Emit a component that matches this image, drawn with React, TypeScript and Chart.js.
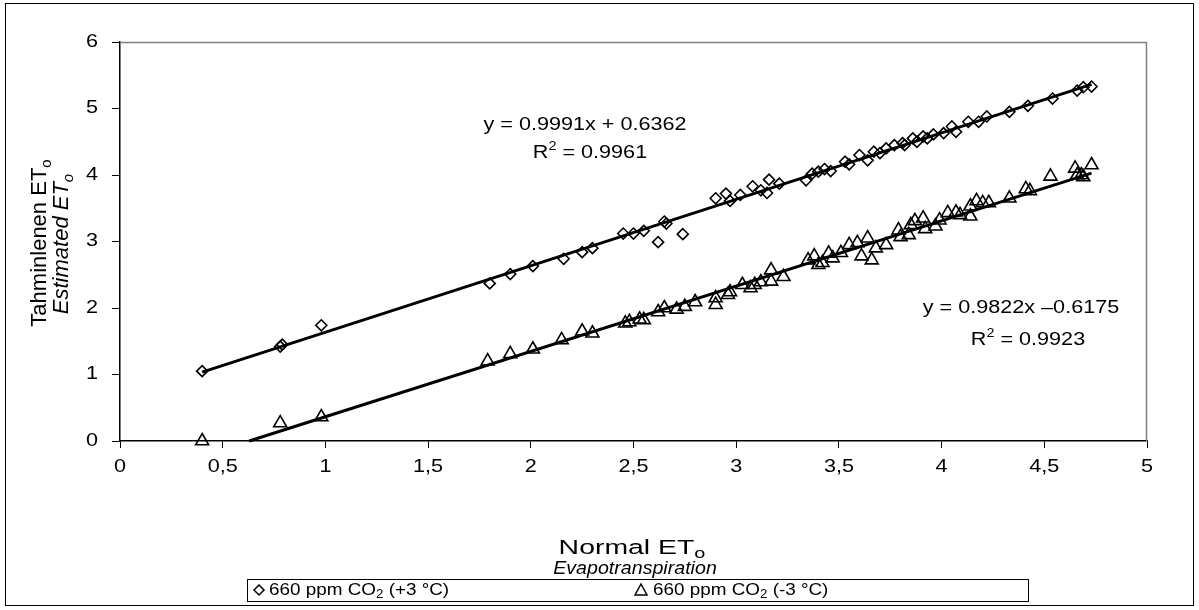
import React, { useEffect, useRef } from "react";
import { Chart, registerables } from "chart.js";

Chart.register(...registerables);

// ---- data ----
const diamondX = [
  0.4, 0.78, 0.79, 0.98, 1.8, 1.9, 2.01, 2.16, 2.25, 2.3, 2.45, 2.5, 2.55, 2.62, 2.65, 2.66, 2.74,
  2.9, 2.95, 2.97, 3.02, 3.08, 3.12, 3.15, 3.16, 3.21, 3.34, 3.37, 3.4, 3.43, 3.46, 3.53, 3.55,
  3.6, 3.64, 3.67, 3.7, 3.73, 3.77, 3.81, 3.82, 3.86, 3.88, 3.91, 3.93, 3.96, 4.01, 4.05, 4.07,
  4.13, 4.18, 4.22, 4.33, 4.42, 4.54, 4.66, 4.69, 4.73,
];
const diamondY = [
  1.05, 1.42, 1.45, 1.74, 2.37, 2.51, 2.63, 2.74, 2.84, 2.9, 3.12, 3.12, 3.16, 2.99, 3.3, 3.27, 3.11,
  3.65, 3.72, 3.61, 3.7, 3.83, 3.77, 3.73, 3.93, 3.87, 3.92, 4.02, 4.05, 4.09, 4.06, 4.2, 4.16,
  4.3, 4.22, 4.35, 4.33, 4.4, 4.45, 4.48, 4.45, 4.55, 4.5, 4.58, 4.55, 4.61, 4.63, 4.73, 4.65,
  4.8, 4.8, 4.88, 4.95, 5.04, 5.15, 5.27, 5.32, 5.33,
];
const triangleX = [
  0.4, 0.78, 0.98, 1.79, 1.9, 2.01, 2.15, 2.25, 2.3, 2.46, 2.48, 2.53, 2.55, 2.62, 2.65, 2.71, 2.75,
  2.8, 2.9, 2.9, 2.96, 2.97, 3.03, 3.07, 3.09, 3.12, 3.17, 3.17, 3.23, 3.35, 3.38, 3.4, 3.42, 3.45,
  3.47, 3.51, 3.55, 3.59, 3.61, 3.64, 3.66, 3.68, 3.73, 3.79, 3.8, 3.84, 3.85, 3.87, 3.91, 3.92,
  3.97, 3.99, 4.03, 4.07, 4.09, 4.14, 4.14, 4.17, 4.2, 4.23, 4.33, 4.41, 4.43, 4.53, 4.65, 4.66,
  4.68, 4.69, 4.73,
];
const triangleY = [
  0.0, 0.27, 0.36, 1.2, 1.31, 1.38, 1.52, 1.65, 1.62, 1.77, 1.79, 1.83, 1.82, 1.94, 2.0, 1.98, 2.02,
  2.09, 2.15, 2.05, 2.2, 2.24, 2.35, 2.3, 2.35, 2.39, 2.4, 2.57, 2.47, 2.72, 2.78, 2.65, 2.68, 2.82,
  2.75, 2.83, 2.95, 2.98, 2.78, 3.05, 2.72, 2.9, 2.95, 3.17, 3.07, 3.1, 3.25, 3.31, 3.35, 3.19,
  3.23, 3.32, 3.43, 3.44, 3.4, 3.53, 3.38, 3.61, 3.58, 3.58, 3.65, 3.79, 3.76, 3.98, 4.1, 4.0,
  4.0, 3.97, 4.15,
];
const fitSlopes = [0.9991, 0.9822];
const fitIntercepts = [0.6362, -0.6175];
const equationTexts = ["y = 0.9991x + 0.6362", "y = 0.9822x \u20130.6175"];
const r2Values = ["0.9961", "0.9923"];
const xTickValues = [0, 0.5, 1, 1.5, 2, 2.5, 3, 3.5, 4, 4.5, 5];
const yTickValues = [0, 1, 2, 3, 4, 5, 6];
const seriesNames = ["660 ppm CO", "660 ppm CO"];
const seriesSuffixes = [" (+3 \u00b0C)", " (-3 \u00b0C)"];

// ---- drawing helpers ----
const FAMILY = "'Liberation Sans', Arial, sans-serif";
const FS = 18;
const SX = 1.2;

type Part = { t: string; sub?: boolean; sup?: boolean; italic?: boolean };

function partFont(p: Part, fs: number) {
  const size = p.sub || p.sup ? Math.round(fs * 0.68) : fs;
  return `${p.italic ? "italic " : ""}${size}px ${FAMILY}`;
}

function drawRich(
  ctx: CanvasRenderingContext2D,
  parts: Part[],
  x: number,
  y: number,
  align: "left" | "center" | "right",
  fs = FS,
  sx = SX,
  rotate = false
) {
  ctx.save();
  ctx.translate(x, y);
  ctx.scale(sx, 1);
  if (rotate) ctx.rotate(-Math.PI / 2);
  let w = 0;
  for (const p of parts) {
    ctx.font = partFont(p, fs);
    w += ctx.measureText(p.t).width;
  }
  let cx = align === "center" ? -w / 2 : align === "right" ? -w : 0;
  ctx.textBaseline = "middle";
  ctx.textAlign = "left";
  ctx.fillStyle = "#000";
  for (const p of parts) {
    ctx.font = partFont(p, fs);
    const dy = p.sub ? fs * 0.3 : p.sup ? -fs * 0.33 : 0;
    ctx.fillText(p.t, cx, dy);
    cx += ctx.measureText(p.t).width;
  }
  ctx.restore();
}

function fmt(v: number) {
  return String(v).replace(".", ",");
}

const annotationPlugin = {
  id: "annotations",
  afterDraw(chart: any) {
    const ctx: CanvasRenderingContext2D = chart.ctx;
    const area = chart.chartArea;
    const xs = chart.scales.x;
    const ys = chart.scales.y;
    ctx.save();

    // grey frame at top / right of plot area
    ctx.strokeStyle = "#808080";
    ctx.lineWidth = 1.5;
    ctx.beginPath();
    ctx.moveTo(area.left, area.top + 0.5);
    ctx.lineTo(area.right - 0.5, area.top + 0.5);
    ctx.lineTo(area.right - 0.5, area.bottom);
    ctx.stroke();

    // outer frame
    ctx.strokeStyle = "#000";
    ctx.lineWidth = 1;
    ctx.strokeRect(5.5, 3.5, 1188, 602);

    // tick labels
    for (const v of xTickValues) {
      drawRich(ctx, [{ t: fmt(v) }], xs.getPixelForValue(v), area.bottom + 26, "center");
    }
    for (const v of yTickValues) {
      drawRich(ctx, [{ t: fmt(v) }], area.left - 22, ys.getPixelForValue(v), "right");
    }

    // axis titles
    drawRich(ctx, [{ t: "Tahminlenen ET" }, { t: "o", sub: true }], 40, 243, "center", 22, 1, true);
    drawRich(
      ctx,
      [{ t: "Estimated ET", italic: true }, { t: "o", sub: true, italic: true }],
      62,
      244,
      "center",
      22,
      1,
      true
    );
    drawRich(ctx, [{ t: "Normal ET" }, { t: "o", sub: true }], 632, 548, "center", 20, 1.42);
    drawRich(ctx, [{ t: "Evapotranspiration", italic: true }], 635, 569, "center", 18, 1.09);

    // regression equations
    drawRich(ctx, [{ t: equationTexts[0] }], 585, 125, "center");
    drawRich(ctx, [{ t: "R" }, { t: "2", sup: true }, { t: " = " + r2Values[0] }], 590, 153, "center");
    drawRich(ctx, [{ t: equationTexts[1] }], 1021, 308, "center");
    drawRich(ctx, [{ t: "R" }, { t: "2", sup: true }, { t: " = " + r2Values[1] }], 1028, 340, "center");

    // legend box
    ctx.strokeStyle = "#000";
    ctx.lineWidth = 1;
    ctx.strokeRect(247.5, 579.5, 781, 22);
    const ly = 590;
    // diamond marker
    ctx.lineWidth = 1.5;
    ctx.beginPath();
    ctx.moveTo(259, ly - 5);
    ctx.lineTo(264, ly);
    ctx.lineTo(259, ly + 5);
    ctx.lineTo(254, ly);
    ctx.closePath();
    ctx.stroke();
    drawRich(
      ctx,
      [{ t: seriesNames[0] }, { t: "2", sub: true }, { t: seriesSuffixes[0] }],
      269,
      ly,
      "left",
      17,
      1.11
    );
    // triangle marker
    ctx.beginPath();
    ctx.moveTo(641, ly - 6);
    ctx.lineTo(647, ly + 5);
    ctx.lineTo(635, ly + 5);
    ctx.closePath();
    ctx.stroke();
    drawRich(
      ctx,
      [{ t: seriesNames[1] }, { t: "2", sub: true }, { t: seriesSuffixes[1] }],
      653,
      ly,
      "left",
      17,
      1.11
    );
    ctx.restore();
  },
};

function trendPoints(xsArr: number[], slope: number, intercept: number) {
  const minX = Math.max(Math.min(...xsArr), -intercept / slope);
  const maxX = Math.max(...xsArr);
  return [
    { x: minX, y: slope * minX + intercept },
    { x: maxX, y: slope * maxX + intercept },
  ];
}

export default function App() {
  const ref = useRef<HTMLCanvasElement>(null);
  useEffect(() => {
    document.body.style.margin = "0";
    const canvas = ref.current!;
    const chart = new Chart(canvas, {
      type: "scatter",
      data: {
        datasets: [
          {
            type: "line",
            label: "trend1",
            data: trendPoints(diamondX, fitSlopes[0], fitIntercepts[0]),
            borderColor: "#000",
            borderWidth: 3,
            pointRadius: 0,
            showLine: true,
            fill: false,
          } as any,
          {
            type: "line",
            label: "trend2",
            data: trendPoints(triangleX, fitSlopes[1], fitIntercepts[1]),
            borderColor: "#000",
            borderWidth: 3,
            pointRadius: 0,
            showLine: true,
            fill: false,
          } as any,
          {
            label: "660 ppm CO2 (+3 °C)",
            data: diamondX.map((x, i) => ({ x, y: diamondY[i] })),
            pointStyle: "rectRot",
            pointRadius: 5.5,
            pointBorderWidth: 1.6,
            pointBorderColor: "#000",
            pointBackgroundColor: "rgba(0,0,0,0)",
            showLine: false,
          },
          {
            label: "660 ppm CO2 (-3 °C)",
            data: triangleX.map((x, i) => ({ x, y: triangleY[i] })),
            pointStyle: "triangle",
            pointRadius: 7.5,
            pointBorderWidth: 1.6,
            pointBorderColor: "#000",
            pointBackgroundColor: "rgba(0,0,0,0)",
            showLine: false,
          },
        ],
      },
      options: {
        animation: false,
        responsive: false,
        maintainAspectRatio: false,
        clip: false as any,
        layout: { padding: { left: 0, top: 42, right: 52, bottom: 0 } },
        plugins: { legend: { display: false }, tooltip: { enabled: false } },
        scales: {
          x: {
            type: "linear",
            min: 0,
            max: 5,
            afterBuildTicks: (s: any) => {
              s.ticks = xTickValues.map((v) => ({ value: v }));
            },
            ticks: { display: false },
            grid: { drawOnChartArea: false, drawTicks: true, tickLength: 7, color: "#000", lineWidth: 1 },
            border: { display: true, color: "#000", width: 1.5 },
            afterFit: (s: any) => {
              s.height = 169;
            },
          },
          y: {
            type: "linear",
            min: 0,
            max: 6,
            afterBuildTicks: (s: any) => {
              s.ticks = yTickValues.map((v) => ({ value: v }));
            },
            ticks: { display: false },
            grid: { drawOnChartArea: false, drawTicks: true, tickLength: 8, color: "#000", lineWidth: 1 },
            border: { display: true, color: "#000", width: 1.5 },
            afterFit: (s: any) => {
              s.width = 120;
            },
          },
        },
      },
      plugins: [annotationPlugin],
    });
    return () => chart.destroy();
  }, []);
  return (
    <div style={{ position: "absolute", left: 0, top: 0, width: 1199, height: 610, background: "#fff" }}>
      <canvas ref={ref} width={1199} height={610} style={{ display: "block" }} />
    </div>
  );
}
